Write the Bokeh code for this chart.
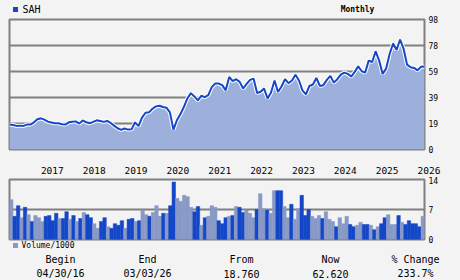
from bokeh.plotting import figure
from bokeh.layouts import column
from bokeh.models import FixedTicker, Range1d
from bokeh.core.properties import value
from bokeh.embed import file_html
from bokeh.resources import INLINE

BG = "#f3f3f3"
DARK = "#1446c8"
LIGHT = "#8899c6"
FILL = "#9db0dc"
GRID = "#808080"
MONO = "DejaVu Sans Mono"

# monthly closes, Apr 2016 .. Mar 2026
price = [18.8, 18.5, 17.8, 18.0, 17.8, 18.8, 18.8, 20.5, 22.8, 23.5,
         22.5, 21.0, 20.3, 19.8, 19.8, 19.0, 18.8, 20.5, 21.0, 21.2,
         19.5, 21.9, 20.5, 19.8, 20.8, 22.0, 21.5, 20.8, 21.5, 20.0,
         18.0, 16.0, 14.8, 15.8, 15.0, 15.2, 20.5, 17.6, 24.0, 27.7,
         28.0, 30.7, 32.5, 33.0, 32.0, 31.5, 28.0, 15.0, 22.0, 26.5,
         32.0, 38.5, 42.5, 40.0, 37.0, 40.5, 39.5, 41.0, 47.0, 49.7,
         49.7, 48.5, 44.6, 54.7, 51.5, 53.0, 51.0, 46.0, 49.5, 52.5,
         53.4, 42.6, 43.5, 45.9, 38.5, 43.0, 52.0, 43.4, 47.5, 53.0,
         50.0, 52.0, 56.4, 52.0, 44.6, 41.6, 47.9, 49.0, 53.9, 47.9,
         48.5, 52.5, 55.5, 50.4, 53.0, 56.5, 58.0, 57.0, 55.0, 58.5,
         62.7, 59.0, 58.0, 67.0, 66.0, 74.0, 67.0, 57.0, 61.0, 72.0,
         79.9, 75.0, 82.9, 76.0, 64.0, 62.0, 61.5, 59.7, 62.3, 62.6]

# monthly volume / 1000
volume = [9.3, 5.4, 7.9, 5.1, 7.5, 5.8, 4.2, 5.6, 5.1, 4.2,
          5.4, 5.6, 4.4, 6.1, 4.9, 4.9, 6.5, 4.7, 5.6, 4.2,
          4.9, 6.3, 5.8, 5.1, 3.7, 2.6, 4.2, 5.1, 3.0, 2.6,
          3.7, 3.3, 4.4, 2.6, 4.7, 4.9, 4.2, 4.4, 6.8, 5.8,
          5.4, 6.3, 7.9, 5.4, 6.1, 6.1, 7.9, 13.4, 9.6, 8.9,
          10.3, 10.0, 7.5, 6.5, 7.7, 3.3, 5.1, 5.4, 7.9, 7.5,
          4.4, 3.7, 5.1, 5.4, 5.6, 7.7, 7.5, 6.3, 6.8, 6.1,
          5.1, 7.0, 10.7, 7.2, 6.8, 6.1, 11.4, 11.4, 11.4, 7.7,
          5.1, 8.2, 4.7, 7.2, 10.3, 5.6, 7.0, 5.4, 4.9, 5.6,
          4.9, 6.5, 4.7, 4.2, 3.0, 5.1, 3.7, 5.4, 3.5, 3.0,
          3.3, 4.0, 3.5, 3.5, 3.3, 2.3, 3.0, 3.7, 5.1, 5.8,
          3.5, 3.5, 5.6, 4.0, 3.5, 4.4, 3.7, 3.7, 3.0, 5.4]

# 1 = dark bar, 0 = light bar
vol_dark = [0, 1, 1, 0, 1, 0, 1, 0, 0, 0,
            1, 1, 1, 1, 0, 1, 1, 0, 1, 0,
            1, 0, 1, 1, 0, 0, 1, 1, 0, 1,
            1, 1, 1, 0, 1, 1, 0, 1, 0, 0,
            1, 0, 0, 0, 1, 0, 1, 1, 0, 0,
            0, 0, 0, 1, 1, 0, 1, 0, 0, 0,
            1, 1, 1, 0, 1, 0, 1, 1, 0, 0,
            0, 1, 0, 0, 1, 0, 0, 1, 1, 0,
            0, 1, 0, 0, 1, 1, 1, 0, 0, 0,
            1, 0, 0, 0, 1, 0, 0, 0, 1, 1,
            0, 0, 1, 1, 0, 1, 0, 1, 1, 0,
            0, 0, 1, 0, 1, 1, 1, 1, 1, 0]

months = list(range(len(price)))
year_labels = ["2017", "2018", "2019", "2020", "2021", "2022", "2023", "2024", "2025", "2026"]
year_month_index = [9, 21, 33, 45, 57, 69, 81, 93, 105, 117]
price_ticks = [0, 19.6, 39.2, 58.8, 78.4, 98]
price_tick_labels = ["0", "19", "39", "59", "78", "98"]
vol_ticks = [0, 7, 14]
vol_tick_labels = ["0", "7", "14"]
summary_heads = ["Begin", "End", "From", "Now", "% Change"]
summary_vals = ["04/30/16", "03/03/26", "18.760", "62.620", "233.7%"]

W = 460
LEFT, RIGHT = 9, 36
PLOT_W = W - LEFT - RIGHT
OVERLAP = 6


def strip(height):
    p = figure(width=W, height=height, output_backend="svg", toolbar_location=None,
               x_range=Range1d(0, W), y_range=Range1d(height, 0),
               x_axis_location=None, y_axis_location=None, min_border=0,
               frame_align=False)
    p.background_fill_color = BG
    p.border_fill_color = BG
    p.outline_line_color = None
    p.grid.visible = False
    return p


def style(p):
    p.background_fill_color = BG
    p.border_fill_color = BG
    p.outline_line_color = GRID
    p.outline_line_width = 2
    p.xgrid.visible = False
    p.ygrid.grid_line_color = GRID
    p.ygrid.grid_line_width = 2
    ax = p.yaxis[0]
    ax.axis_line_color = None
    ax.major_tick_line_color = None
    ax.minor_tick_line_color = None
    ax.major_tick_out = 0
    ax.major_tick_in = 0
    ax.major_label_standoff = 4
    ax.major_label_text_font = MONO
    ax.major_label_text_font_size = "8px"
    ax.major_label_text_color = "black"


# ---------------- header strip (0..14) ----------------
hd = strip(14)
hd.scatter(x=[15], y=[9], marker="square", size=5, fill_color=DARK, line_color=None)
hd.text(x=[22], y=[9], text=["SAH"], text_font=value(MONO), text_font_size="10px",
        text_baseline="middle", text_align="left", text_color="black")
hd.text(x=[357], y=[9], text=["Monthly"], text_font=value(MONO), text_font_size="8px",
        text_font_style="bold", text_baseline="middle", text_align="center",
        text_color="black")

# ---------------- price panel (14..156), frame 19..149 ----------------
p1 = figure(width=W, height=142, output_backend="svg", toolbar_location=None,
            x_range=Range1d(0, len(price) - 1), y_range=Range1d(0, 98),
            x_axis_location=None, y_axis_location="right", frame_align=False,
            min_border_left=LEFT, min_border_right=RIGHT, min_border_top=5, min_border_bottom=7)
style(p1)
p1.yaxis.ticker = FixedTicker(ticks=price_ticks)
p1.yaxis.major_label_overrides = dict(zip(price_ticks, price_tick_labels))
p1.ygrid.ticker = FixedTicker(ticks=price_ticks[1:-1])

p1.varea(x=months, y1=0, y2=price, fill_color=FILL)
p1.line(months, price, line_color="white", line_width=4)
p1.line(months, price, line_color=DARK, line_width=2)

# ---------------- year labels strip (156..176) ----------------
px_per_month = PLOT_W / (len(price) - 1)
yr = figure(width=W, height=20, output_backend="svg", toolbar_location=None,
            x_range=Range1d(-LEFT / px_per_month, len(price) - 1 + RIGHT / px_per_month),
            y_range=Range1d(20, 0), frame_align=False,
            x_axis_location=None, y_axis_location=None, min_border=0)
yr.background_fill_color = BG
yr.border_fill_color = BG
yr.outline_line_color = None
yr.grid.visible = False
yr.text(x=year_month_index, y=[14] * len(year_labels), text=year_labels,
        text_font=value(MONO), text_font_size="9.5px", text_baseline="middle",
        text_align="left", text_color="black")

# ---------------- volume panel (176..245), frame 179..239 ----------------
p2 = figure(width=W, height=69, output_backend="svg", toolbar_location=None,
            x_range=Range1d(-0.5, len(volume) - 0.5), y_range=Range1d(0, 14),
            x_axis_location=None, y_axis_location="right", frame_align=False,
            min_border_left=LEFT, min_border_right=RIGHT, min_border_top=3, min_border_bottom=6)
style(p2)
p2.yaxis.ticker = FixedTicker(ticks=vol_ticks)
p2.yaxis.major_label_overrides = dict(zip(vol_ticks, vol_tick_labels))
p2.ygrid.ticker = FixedTicker(ticks=[7])

bar_colors = [DARK if d else LIGHT for d in vol_dark]
p2.vbar(x=months, top=volume, width=1.0, fill_color=bar_colors,
        line_color=bar_colors, line_width=0.5)

# ---------------- footer (239..280, overlapping the volume panel's empty bottom border) ----------------
ft = strip(41)
ft.background_fill_alpha = 0
ft.border_fill_alpha = 0
ft.styles = {"margin-top": f"-{OVERLAP}px"}
ft.scatter(x=[15], y=[6], marker="square", size=5, fill_color=LIGHT, line_color=None)
ft.text(x=[21], y=[6], text=["Volume/1000"], text_font=value(MONO), text_font_size="8px",
        text_baseline="middle", text_align="left", text_color="black")
col_x = [60, 147, 241, 330, 415]
ft.text(x=col_x, y=[20] * 5, text=summary_heads, text_font=value(MONO), text_font_size="10px",
        text_baseline="middle", text_align="center", text_color="black")
ft.text(x=col_x, y=[34] * 5, text=summary_vals, text_font=value(MONO), text_font_size="10px",
        text_baseline="middle", text_align="center", text_color="black")

layout = column(hd, p1, yr, p2, ft, spacing=0)
layout.styles = {"background-color": BG}

open("out.html", "w").write(file_html(layout, INLINE))
